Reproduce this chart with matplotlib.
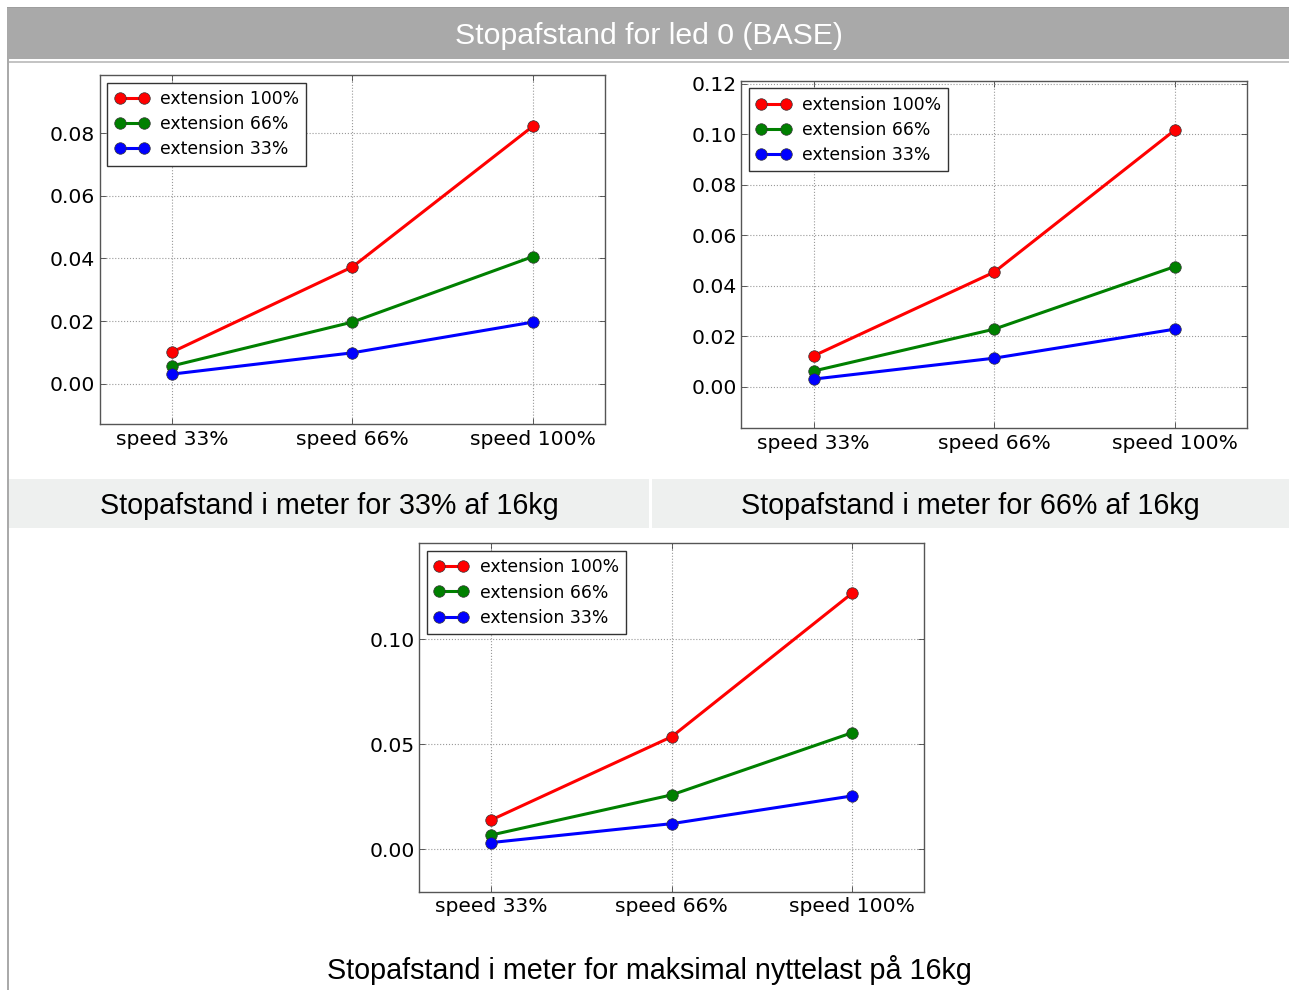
import matplotlib
matplotlib.use("Agg")
import matplotlib.pyplot as plt
from matplotlib.patches import Rectangle

W, H = 1289, 990

categories = ["speed 33%", "speed 66%", "speed 100%"]
series_labels = ["extension 100%", "extension 66%", "extension 33%"]
series_colors = ["#ff0000", "#008000", "#0000ff"]

# Plot 1: 33% of 16kg
p1_ext100 = [0.0101, 0.0373, 0.0822]
p1_ext66 = [0.0057, 0.0197, 0.0406]
p1_ext33 = [0.0031, 0.0099, 0.0197]
# Plot 2: 66% of 16kg
p2_ext100 = [0.0122, 0.0454, 0.1017]
p2_ext66 = [0.0062, 0.0228, 0.0476]
p2_ext33 = [0.0030, 0.0113, 0.0228]
# Plot 3: max payload 16kg
p3_ext100 = [0.0140, 0.0536, 0.1219]
p3_ext66 = [0.0068, 0.0259, 0.0555]
p3_ext33 = [0.0032, 0.0122, 0.0254]

main_title = "Stopafstand for led 0 (BASE)"
caption1 = "Stopafstand i meter for 33% af 16kg"
caption2 = "Stopafstand i meter for 66% af 16kg"
caption3 = "Stopafstand i meter for maksimal nyttelast på 16kg"

p1_yticks = [0.00, 0.02, 0.04, 0.06, 0.08]
p2_yticks = [0.00, 0.02, 0.04, 0.06, 0.08, 0.10, 0.12]
p3_yticks = [0.00, 0.05, 0.10]

fig = plt.figure(figsize=(W / 100, H / 100), dpi=100)
fig.patch.set_facecolor("white")


def fx(x):
    return x / W


def fy(y):
    return 1 - y / H


def rect(x0, y0, x1, y1, color, z=0):
    fig.patches.append(Rectangle((fx(x0), fy(y1)), fx(x1) - fx(x0), fy(y0) - fy(y1),
                                 transform=fig.transFigure, facecolor=color,
                                 edgecolor="none", zorder=z))


# header bar
rect(7, 7, W, 59, "#a9a9a9")
rect(7, 7, W, 8, "#9e9e9e")
rect(7, 61, W, 62.5, "#c4c4c4")
# left vertical line
rect(7, 59, 9, H, "#aaaaaa")
# caption bands
rect(9, 479, 649, 528, "#eef0ef")
rect(651.5, 479, W, 528, "#eef0ef")

tfont = ["Liberation Sans", "DejaVu Sans"]
fig.text(fx(649), fy(36.5), main_title, color="white", fontsize=21.8, family=tfont,
         ha="center", va="center")
fig.text(fx(329), fy(506), caption1, color="black", fontsize=20.7, family=tfont,
         ha="center", va="center")
fig.text(fx(970), fy(506), caption2, color="black", fontsize=20.7, family=tfont,
         ha="center", va="center")
fig.text(fx(649), fy(970), caption3, color="black", fontsize=20.7, family=tfont,
         ha="center", va="center")


def make_axes(x0, y0, x1, y1, s100, s66, s33, yticks, ylim):
    ax = fig.add_axes([fx(x0), fy(y1), fx(x1) - fx(x0), fy(y0) - fy(y1)])
    xs = list(range(len(categories)))
    for vals, lab, col in zip([s100, s66, s33], series_labels, series_colors):
        ax.plot(xs, vals, "-o", color=col, label=lab, linewidth=2.2,
                markersize=8.3, markeredgecolor="#333333", markeredgewidth=0.5)
    ax.set_xlim(-0.4, 2.4)
    ax.set_ylim(*ylim)
    ax.set_xticks(xs)
    ax.set_xticklabels(categories)
    ax.set_yticks(yticks)
    ax.set_yticklabels([f"{t:.2f}" for t in yticks])
    ax.tick_params(axis="both", labelsize=14.6, direction="in", length=4,
                   width=0.6, color="#444444", top=True, right=True)
    ax.tick_params(axis="x", pad=4)
    ax.tick_params(axis="y", pad=3)
    for sp in ax.spines.values():
        sp.set_color("#555555")
        sp.set_linewidth(1.0)
    ax.grid(True, color="#999999", linestyle=":", linewidth=0.8)
    ax.set_axisbelow(True)
    leg = ax.legend(loc="upper left", numpoints=2, fontsize=12.4, frameon=True,
                    fancybox=False, borderaxespad=0.45, handlelength=2.0,
                    handletextpad=0.65, labelspacing=0.42, borderpad=0.42)
    leg.get_frame().set_edgecolor("#333333")
    leg.get_frame().set_linewidth(1.0)
    leg.get_frame().set_alpha(1)
    return ax


make_axes(99.5, 75, 605.3, 424, p1_ext100, p1_ext66, p1_ext33, p1_yticks, (-0.0128, 0.0985))
make_axes(741.3, 80.7, 1247, 428.3, p2_ext100, p2_ext66, p2_ext33, p2_yticks, (-0.0165, 0.1213))
make_axes(419.2, 543.3, 924.2, 891.7, p3_ext100, p3_ext66, p3_ext33, p3_yticks, (-0.0202, 0.1457))

fig.savefig("out.png", dpi=100, facecolor="white")
